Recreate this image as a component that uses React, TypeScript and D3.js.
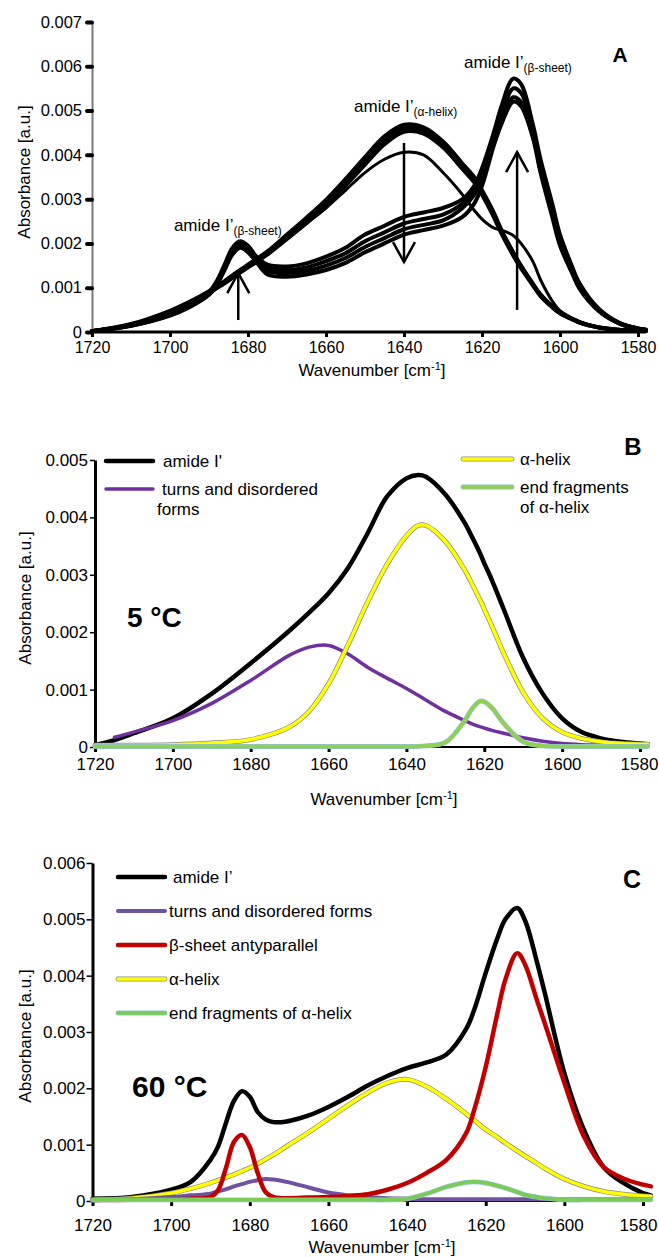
import React, { useEffect, useRef } from 'react';
import * as d3 from 'd3';

// ---------- panel A: temperature series of amide I' ----------
const WAVE_A = [1720, 1710, 1700, 1695, 1690, 1688, 1686, 1684, 1682, 1680, 1678, 1675, 1670, 1665, 1660, 1655, 1650, 1645, 1640, 1635, 1630, 1625, 1622, 1620, 1617, 1615, 1612, 1610, 1607, 1605, 1602, 1600, 1597, 1595, 1590, 1585, 1580, 1578];
const A_HELIX_1 = [0.00002, 0.00018, 0.00048, 0.00068, 0.00092, 0.00103, 0.00115, 0.00128, 0.0014, 0.00152, 0.00164, 0.00182, 0.0022, 0.00258, 0.00298, 0.00345, 0.00395, 0.00442, 0.00468, 0.00462, 0.0043, 0.0038, 0.0035, 0.0032, 0.0027, 0.0023, 0.0018, 0.0015, 0.0011, 0.00085, 0.00058, 0.00044, 0.0003, 0.00022, 0.0001, 0.00005, 0.00003, 0.00002];
const A_HELIX_2 = [0.00002, 0.00017, 0.00046, 0.00066, 0.0009, 0.00101, 0.00113, 0.00125, 0.00137, 0.00149, 0.00161, 0.00179, 0.00215, 0.00252, 0.00291, 0.00337, 0.00386, 0.00433, 0.0046, 0.00455, 0.00423, 0.00374, 0.00344, 0.00315, 0.00265, 0.00226, 0.00177, 0.00147, 0.00108, 0.00083, 0.00057, 0.00043, 0.0003, 0.00022, 0.0001, 0.00005, 0.00003, 0.00002];
const A_HELIX_3 = [0.00002, 0.00016, 0.00045, 0.00064, 0.00088, 0.00099, 0.0011, 0.00122, 0.00134, 0.00146, 0.00157, 0.00175, 0.0021, 0.00246, 0.00285, 0.0033, 0.00378, 0.00424, 0.00452, 0.00448, 0.00417, 0.00368, 0.00338, 0.0031, 0.0026, 0.00222, 0.00173, 0.00144, 0.00106, 0.00081, 0.00056, 0.00042, 0.00029, 0.00021, 0.0001, 0.00005, 0.00003, 0.00002];
const A_TRANSITION = [0.00002, 0.00017, 0.00045, 0.00065, 0.0009, 0.00101, 0.00113, 0.00126, 0.00138, 0.0015, 0.00162, 0.00178, 0.0021, 0.00245, 0.0028, 0.0032, 0.0036, 0.0039, 0.00406, 0.004, 0.0036, 0.0031, 0.00275, 0.00255, 0.00235, 0.0023, 0.00218, 0.002, 0.0016, 0.00118, 0.0007, 0.00048, 0.00032, 0.00024, 0.0001, 0.00005, 0.00002, 0.00002];
const A_SHEET_1 = [0.00002, 0.00015, 0.0004, 0.0006, 0.0009, 0.00115, 0.00152, 0.0019, 0.00205, 0.00195, 0.00172, 0.00152, 0.00148, 0.00155, 0.0017, 0.0019, 0.0022, 0.0024, 0.0026, 0.0027, 0.0028, 0.003, 0.0033, 0.0037, 0.0045, 0.0051, 0.00572, 0.0056, 0.0047, 0.0039, 0.0029, 0.0022, 0.0015, 0.0011, 0.00052, 0.00022, 0.00008, 0.00005];
const A_SHEET_2 = [0.00002, 0.00015, 0.0004, 0.0006, 0.00088, 0.00112, 0.00148, 0.00185, 0.002, 0.0019, 0.00166, 0.00145, 0.0014, 0.00146, 0.0016, 0.00178, 0.00205, 0.00225, 0.00245, 0.00255, 0.00265, 0.0029, 0.0032, 0.0036, 0.0044, 0.0049, 0.0055, 0.0054, 0.0046, 0.0038, 0.0028, 0.0021, 0.00145, 0.00105, 0.0005, 0.00021, 0.00008, 0.00005];
const A_SHEET_3 = [0.00002, 0.00014, 0.00038, 0.00058, 0.00086, 0.0011, 0.00145, 0.0018, 0.00195, 0.00185, 0.00163, 0.00138, 0.00133, 0.00138, 0.0015, 0.00167, 0.00192, 0.00212, 0.00232, 0.00242, 0.00252, 0.0028, 0.0031, 0.0035, 0.0043, 0.0048, 0.0053, 0.0052, 0.0045, 0.0037, 0.0027, 0.002, 0.0014, 0.001, 0.00048, 0.0002, 0.00007, 0.00005];
const A_SHEET_4 = [0.00002, 0.00014, 0.00037, 0.00056, 0.00084, 0.00106, 0.0014, 0.00175, 0.0019, 0.0018, 0.0016, 0.0013, 0.00125, 0.0013, 0.0014, 0.00156, 0.0018, 0.002, 0.0022, 0.0023, 0.0024, 0.0026, 0.0029, 0.0033, 0.0042, 0.0047, 0.0052, 0.0051, 0.0044, 0.0036, 0.0026, 0.00195, 0.00135, 0.00098, 0.00047, 0.0002, 0.00007, 0.00005];
const Y_TICKS_A = [0, 0.001, 0.002, 0.003, 0.004, 0.005, 0.006, 0.007];
// arrows: wavenumber, start absorbance, tip absorbance
const ARROWS_A = [
  [1682.5, 0.00027, 0.00133],
  [1640, 0.00427, 0.00158],
  [1611, 0.0005, 0.00406],
];

// ---------- panel B: 5 °C band fit ----------
const WAVE_B = [1720, 1715, 1710, 1700, 1690, 1680, 1670, 1665, 1660, 1655, 1650, 1645, 1640, 1637, 1635, 1630, 1625, 1623, 1621, 1620, 1618, 1615, 1610, 1605, 1600, 1595, 1590, 1585, 1580, 1578];
const B_AMIDE = [0.00003, 0.00012, 0.00024, 0.0005, 0.00093, 0.00146, 0.00203, 0.00234, 0.00268, 0.00312, 0.00372, 0.00436, 0.00468, 0.00474, 0.00471, 0.0044, 0.0039, 0.00364, 0.00336, 0.0032, 0.0029, 0.0024, 0.00155, 0.00093, 0.0005, 0.00026, 0.00015, 0.00009, 0.00006, 0.00005];
const B_TURNS = [null, 0.00017, 0.00026, 0.00046, 0.00076, 0.00116, 0.0016, 0.00174, 0.00177, 0.00162, 0.00139, 0.0012, 0.00102, 0.0009, 0.00082, 0.00062, 0.00046, 0.0004, 0.00035, 0.00033, 0.00029, 0.00024, 0.00016, 0.0001, 0.00006, 0.00004, 0.00003, 0.00002, 0.00002, 0.00002];
const B_HELIX = [0.00003, 0.00003, 0.00003, 0.00004, 0.00007, 0.00013, 0.00035, 0.00062, 0.0011, 0.00178, 0.00252, 0.00318, 0.00368, 0.00386, 0.00386, 0.00358, 0.00308, 0.00282, 0.00255, 0.0024, 0.0021, 0.00163, 0.00095, 0.0005, 0.00026, 0.00015, 0.00009, 0.00006, 0.00005, 0.00005];
const B_ENDS = [0.00001, 0.00001, 0.00001, 0.00001, 0.00001, 0.00001, 0.00001, 0.00001, 0.00001, 0.00001, 0.00001, 0.00001, 0.00001, 0.00001, 0.00002, 0.00008, 0.00046, 0.00068, 0.0008, 0.00079, 0.00068, 0.00041, 0.00009, 0.00002, 0.00001, 0.00001, 0.00001, 0.00001, 0.00001, 0.00001];
const Y_TICKS_B = [0, 0.001, 0.002, 0.003, 0.004, 0.005];

// ---------- panel C: 60 °C band fit ----------
const WAVE_C = [1720, 1710, 1700, 1695, 1690, 1688, 1686, 1684, 1682, 1680, 1678, 1676, 1674, 1672, 1670, 1665, 1660, 1655, 1650, 1645, 1640, 1635, 1630, 1625, 1623, 1620, 1617, 1615, 1612, 1610, 1607, 1605, 1600, 1595, 1590, 1585, 1580, 1578];
const C_AMIDE = [0.00004, 0.00007, 0.0002, 0.00034, 0.00073, 0.00098, 0.0014, 0.00178, 0.00195, 0.00185, 0.00158, 0.00145, 0.0014, 0.0014, 0.00142, 0.00152, 0.00167, 0.00185, 0.00205, 0.00222, 0.00236, 0.00246, 0.0026, 0.00305, 0.00338, 0.00405, 0.00467, 0.005, 0.0052, 0.00498, 0.00425, 0.0037, 0.00227, 0.00126, 0.0006, 0.00032, 0.00014, 0.0001];
const C_TURNS = [0.00001, 0.00003, 0.00007, 0.0001, 0.00013, 0.00017, 0.00021, 0.00026, 0.0003, 0.00034, 0.00037, 0.00039, 0.00038, 0.00036, 0.00033, 0.00024, 0.00015, 0.0001, 0.00007, 0.00005, 0.00004, 0.00003, 0.00003, 0.00003, 0.00003, 0.00003, 0.00003, 0.00003, 0.00003, 0.00003, 0.00003, 0.00003, 0.00003, 0.00003, 0.00003, 0.00003, 0.00003, 0.00003];
const C_SHEET = [0.00002, 0.00002, 0.00003, 0.00004, 0.00007, 0.0002, 0.0006, 0.00105, 0.00117, 0.00096, 0.0005, 0.00016, 0.00007, 0.00005, 0.00005, 0.00006, 0.00007, 0.00009, 0.00012, 0.0002, 0.00032, 0.0005, 0.00073, 0.0012, 0.0016, 0.00238, 0.00334, 0.00393, 0.0044, 0.0042, 0.00357, 0.00316, 0.0021, 0.00114, 0.0006, 0.0004, 0.00029, 0.00026];
const C_HELIX = [0.00002, 0.00005, 0.00014, 0.00022, 0.00032, 0.00037, 0.00042, 0.00047, 0.00053, 0.00059, 0.00066, 0.00074, 0.00082, 0.00091, 0.001, 0.00122, 0.00146, 0.0017, 0.00192, 0.0021, 0.00216, 0.00203, 0.00181, 0.00155, 0.00144, 0.00127, 0.00113, 0.00103, 0.00089, 0.0008, 0.00067, 0.00058, 0.00039, 0.00026, 0.00017, 0.00012, 0.00009, 0.00008];
const C_ENDS = [0.00002, 0.00002, 0.00002, 0.00002, 0.00002, 0.00002, 0.00002, 0.00002, 0.00002, 0.00002, 0.00002, 0.00002, 0.00002, 0.00002, 0.00002, 0.00002, 0.00002, 0.00002, 0.00002, 0.00002, 0.00004, 0.00013, 0.00025, 0.00033, 0.00034, 0.00032, 0.00027, 0.00023, 0.00016, 0.00011, 0.00007, 0.00005, 0.00002, 0.00002, 0.00002, 0.00002, 0.00002, 0.00002];
const Y_TICKS_C = [0, 0.001, 0.002, 0.003, 0.004, 0.005, 0.006];

const X_TICKS = [1720, 1700, 1680, 1660, 1640, 1620, 1600, 1580];
const FONT = '"Liberation Sans", Arial, Helvetica, sans-serif';
const fmtY = (d: number) => (d === 0 ? '0' : d3.format('.3f')(d));

function drawCurve(g: any, waves: number[], values: (number | null)[], x: any, y: any, color: string, width: number, outline?: string) {
  const line = d3.line<number | null>()
    .defined(v => v != null)
    .x((_, i) => x(waves[i]))
    .y(v => y(v as number))
    .curve(d3.curveCatmullRom.alpha(0.5));
  if (outline) {
    g.append('path').attr('d', line(values)).attr('fill', 'none')
      .attr('stroke', outline).attr('stroke-width', width + 1.4).attr('stroke-linecap', 'round');
  }
  g.append('path').attr('d', line(values)).attr('fill', 'none')
    .attr('stroke', color).attr('stroke-width', width)
    .attr('stroke-linecap', 'round').attr('stroke-linejoin', 'round');
}

function drawAxes(svg: any, x: any, y: any, o: any) {
  const ya = svg.append('g')
    .attr('transform', `translate(${x(1720)},0)`)
    .call(d3.axisLeft(y).tickValues(o.yTicks).tickFormat(fmtY as any)
      .tickSize(o.yTickSize).tickPadding(o.yPad).tickSizeOuter(0));
  ya.attr('font-family', FONT).attr('font-size', o.yFont);
  ya.select('.domain').attr('stroke', o.yAxisColor).attr('stroke-width', o.yAxisWidth);
  ya.selectAll('.tick line').attr('stroke', '#000').attr('stroke-width', o.yTickWidth).attr('stroke-linecap', o.yTickCap);
  ya.selectAll('.tick text').attr('fill', '#000');

  const y0 = y(0);
  const xa = svg.append('g')
    .attr('transform', `translate(0,${y0})`)
    .call(d3.axisBottom(x).tickValues(X_TICKS).tickFormat(d3.format('d') as any)
      .tickSize(5).tickPadding(o.xPad).tickSizeOuter(0));
  xa.attr('font-family', FONT).attr('font-size', o.xFont);
  xa.select('.domain').remove();
  xa.selectAll('.tick line').attr('stroke', '#000').attr('stroke-width', 3);
  xa.selectAll('.tick text').attr('fill', '#000')
    .attr('dx', (d: number) => (d === 1580 ? o.lastDx : 0));
  svg.append('line')
    .attr('x1', x(1720)).attr('x2', x(1578)).attr('y1', y0).attr('y2', y0)
    .attr('stroke', '#000').attr('stroke-width', o.xAxisWidth);

  // axis titles
  const xt = svg.append('text')
    .attr('x', o.xTitle[0]).attr('y', o.xTitle[1])
    .attr('text-anchor', 'middle').attr('font-family', FONT).attr('font-size', 17);
  xt.append('tspan').text('Wavenumber [cm');
  xt.append('tspan').attr('font-size', 11).attr('dy', -6).text('-1');
  xt.append('tspan').attr('dy', 6).text(']');

  svg.append('text')
    .attr('transform', `translate(${o.yTitle[0]},${o.yTitle[1]}) rotate(-90)`)
    .attr('text-anchor', 'middle').attr('font-family', FONT).attr('font-size', 17)
    .text('Absorbance [a.u.]');
}

function legendItem(svg: any, x0: number, x1: number, yy: number, color: string, width: number, outline: string | null, lines: string[], tx: number[], lineGap: number) {
  if (outline) {
    svg.append('line').attr('x1', x0).attr('x2', x1).attr('y1', yy).attr('y2', yy)
      .attr('stroke', outline).attr('stroke-width', width + 1.4).attr('stroke-linecap', 'round');
  }
  svg.append('line').attr('x1', x0).attr('x2', x1).attr('y1', yy).attr('y2', yy)
    .attr('stroke', color).attr('stroke-width', width).attr('stroke-linecap', 'round');
  lines.forEach((t, i) => {
    svg.append('text').attr('x', tx[i]).attr('y', yy + 6 + i * lineGap)
      .attr('font-family', FONT).attr('font-size', 17).attr('fill', '#000').text(t);
  });
}

function amideLabel(svg: any, px: number, py: number, sub: string) {
  const t = svg.append('text').attr('x', px).attr('y', py)
    .attr('font-family', FONT).attr('font-size', 17).attr('fill', '#000');
  t.append('tspan').text('amide I\u2019');
  t.append('tspan').attr('font-size', 12).attr('dy', 4).text(sub);
}

export default function App() {
  const ref = useRef<SVGSVGElement>(null);

  useEffect(() => {
    const svg = d3.select(ref.current);
    svg.selectAll('*').remove();

    // ===== A =====
    const xA = d3.scaleLinear().domain([1720, 1580]).range([92, 638]);
    const yA = d3.scaleLinear().domain([0, 0.007]).range([332, 22]);
    drawAxes(svg, xA, yA, {
      yTicks: Y_TICKS_A, yTickSize: 5, yPad: 5, yAxisColor: '#7a7a7a', yAxisWidth: 2, yFont: 16.5,
      yTickWidth: 4, yTickCap: 'round', xPad: 5, xFont: 16, xAxisWidth: 3, lastDx: 0,
      xTitle: [372, 376], yTitle: [30, 172],
    });
    const gA = svg.append('g');
    [A_SHEET_4, A_SHEET_3, A_SHEET_2, A_SHEET_1].forEach(s => drawCurve(gA, WAVE_A, s, xA, yA, '#000', 4));
    drawCurve(gA, WAVE_A, A_TRANSITION, xA, yA, '#000', 3);
    [A_HELIX_3, A_HELIX_2, A_HELIX_1].forEach(s => drawCurve(gA, WAVE_A, s, xA, yA, '#000', 4));

    ARROWS_A.forEach(([w, v0, v1]) => {
      const px = xA(w), pa = yA(v0), pb = yA(v1);
      const dir = pb < pa ? 1 : -1;
      gA.append('line').attr('x1', px).attr('x2', px).attr('y1', pa).attr('y2', pb)
        .attr('stroke', '#000').attr('stroke-width', 2.5);
      gA.append('path')
        .attr('d', `M${px - 11},${pb + dir * 20} L${px},${pb} L${px + 11},${pb + dir * 20}`)
        .attr('fill', 'none').attr('stroke', '#000').attr('stroke-width', 2.5);
    });

    amideLabel(svg, xA(1699), yA(0.00228), '(\u03b2-sheet)');
    amideLabel(svg, xA(1652.8), yA(0.00497), '(\u03b1-helix)');
    amideLabel(svg, xA(1624.6), yA(0.00596), '(\u03b2-sheet)');
    svg.append('text').attr('x', 620).attr('y', 62).attr('text-anchor', 'middle')
      .attr('font-family', FONT).attr('font-weight', 'bold').attr('font-size', 21).text('A');

    // ===== B =====
    const xB = d3.scaleLinear().domain([1720, 1580]).range([95, 640]);
    const yB = d3.scaleLinear().domain([0, 0.005]).range([747, 460]);
    drawAxes(svg, xB, yB, {
      yTicks: Y_TICKS_B, yTickSize: 5, yPad: 2, yAxisColor: '#000', yAxisWidth: 3, yFont: 17,
      yTickWidth: 1.5, yTickCap: 'butt', xPad: 6, xFont: 17, xAxisWidth: 2, lastDx: -1,
      xTitle: [384, 805], yTitle: [31, 598],
    });
    const gB = svg.append('g');
    drawCurve(gB, WAVE_B, B_AMIDE, xB, yB, '#000', 4.5);
    drawCurve(gB, WAVE_B, B_TURNS, xB, yB, '#7030a0', 3.5);
    drawCurve(gB, WAVE_B, B_HELIX, xB, yB, '#ffff00', 3.5, '#8a8a8a');
    drawCurve(gB, WAVE_B, B_ENDS, xB, yB, '#92d050', 3.5, '#8fc3d8');

    legendItem(svg, 106, 153, 461, '#000', 4.5, null, ['amide I\''], [163], 20);
    legendItem(svg, 106, 153, 489, '#7030a0', 3.5, null, ['turns and disordered', 'forms'], [162, 157], 20);
    legendItem(svg, 463, 512, 459, '#ffff00', 3.5, '#8a8a8a', ['\u03b1-helix'], [520], 20);
    legendItem(svg, 463, 512, 487, '#92d050', 3.5, '#8fc3d8', ['end fragments', 'of \u03b1-helix'], [520, 520], 20);
    svg.append('text').attr('x', 127).attr('y', 627)
      .attr('font-family', FONT).attr('font-weight', 'bold').attr('font-size', 28).text('5 \u00b0C');
    svg.append('text').attr('x', 633).attr('y', 455).attr('text-anchor', 'middle')
      .attr('font-family', FONT).attr('font-weight', 'bold').attr('font-size', 24).text('B');

    // ===== C =====
    const xC = d3.scaleLinear().domain([1720, 1580]).range([92.5, 643]);
    const yC = d3.scaleLinear().domain([0, 0.006]).range([1201, 863]);
    drawAxes(svg, xC, yC, {
      yTicks: Y_TICKS_C, yTickSize: 6, yPad: 1, yAxisColor: '#000', yAxisWidth: 3, yFont: 17,
      yTickWidth: 1.5, yTickCap: 'butt', xPad: 13, xFont: 17, xAxisWidth: 2, lastDx: -5,
      xTitle: [382, 1253], yTitle: [31, 1036],
    });
    const gC = svg.append('g');
    drawCurve(gC, WAVE_C, C_AMIDE, xC, yC, '#000', 4.5);
    drawCurve(gC, WAVE_C, C_HELIX, xC, yC, '#ffff00', 3.5, '#8a8a8a');
    drawCurve(gC, WAVE_C, C_TURNS, xC, yC, '#7052a0', 4);
    drawCurve(gC, WAVE_C, C_SHEET, xC, yC, '#c00000', 4.5);
    drawCurve(gC, WAVE_C, C_ENDS, xC, yC, '#7ccb55', 3.5, '#8fc3d8');

    legendItem(svg, 118, 165, 877, '#000', 4.5, null, ['amide I\u2019'], [173], 20);
    legendItem(svg, 118, 165, 911, '#7052a0', 4, null, ['turns and disordered forms'], [169], 20);
    legendItem(svg, 118, 165, 945, '#c00000', 4.5, null, ['\u03b2-sheet antyparallel'], [169], 20);
    legendItem(svg, 118, 165, 979, '#ffff00', 3.5, '#8a8a8a', ['\u03b1-helix'], [169], 20);
    legendItem(svg, 118, 165, 1013, '#7ccb55', 3.5, '#8fc3d8', ['end fragments of \u03b1-helix'], [169], 20);
    svg.append('text').attr('x', 132).attr('y', 1097)
      .attr('font-family', FONT).attr('font-weight', 'bold').attr('font-size', 30).text('60 \u00b0C');
    svg.append('text').attr('x', 632).attr('y', 888).attr('text-anchor', 'middle')
      .attr('font-family', FONT).attr('font-weight', 'bold').attr('font-size', 25).text('C');
  }, []);

  return (
    <svg ref={ref} width={659} height={1257}
      style={{ position: 'absolute', left: 0, top: 0, background: '#fff', display: 'block' }} />
  );
}
